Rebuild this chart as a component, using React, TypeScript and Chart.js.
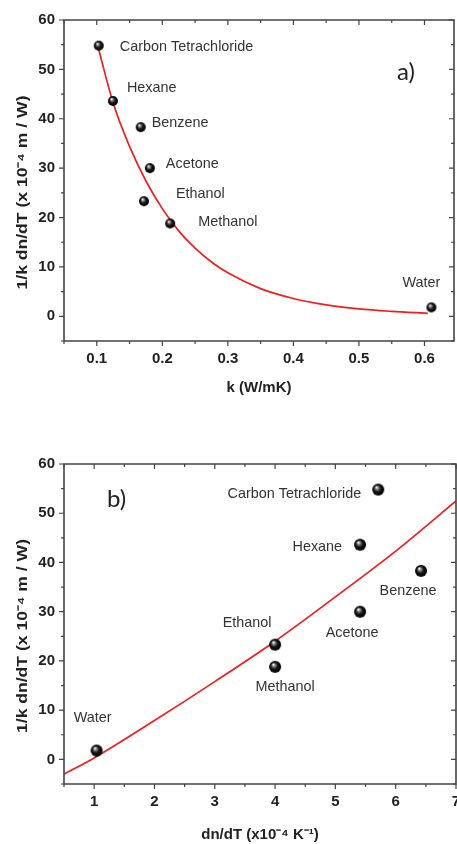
import React, { useEffect, useRef } from "react";
import { Chart, registerables } from "chart.js";

Chart.register(...registerables);

// ---------- data ----------
const solvents = ["Carbon Tetrachloride", "Hexane", "Benzene", "Acetone", "Ethanol", "Methanol", "Water"];
const kValues = [0.103, 0.1246, 0.167, 0.181, 0.172, 0.212, 0.6105];
const dndtValues = [5.71, 5.41, 6.42, 5.41, 4.0, 4.0, 1.04];
const figureOfMerit = [54.8, 43.6, 38.3, 30.0, 23.3, 18.8, 1.8];

const fitKx = [0.102, 0.125, 0.15, 0.175, 0.2, 0.225, 0.25, 0.275, 0.3, 0.35, 0.4, 0.45, 0.5, 0.55, 0.605];
const fitKy = [54.5, 43.2, 34.4, 27.4, 21.8, 17.3, 13.8, 11.0, 8.8, 5.6, 3.6, 2.3, 1.5, 1.0, 0.6];

const fitDx = [0.5, 1, 2, 3, 4, 5, 6, 7];
const fitDy = [-3.0, 0.3, 7.9, 15.8, 24.0, 33.0, 42.3, 52.5];

const yTitle = "1/k dn/dT (x 10\u207B\u2074 m / W)";
const xTitleA = "k (W/mK)";
const xTitleB = "dn/dT (x10\u207B\u2074 K\u207B\u00B9)";

// ---------- styling ----------
const FONT = '"Liberation Sans", Arial, sans-serif';
const TXT = "#222";

function makeBall(r: number) {
  const s = Math.ceil(r * 2 + 2);
  const c = document.createElement("canvas");
  c.width = s;
  c.height = s;
  const g = c.getContext("2d")!;
  const cx = s / 2, cy = s / 2;
  const grad = g.createRadialGradient(cx - r * 0.3, cy - r * 0.4, r * 0.05, cx, cy, r);
  grad.addColorStop(0, "#ffffff");
  grad.addColorStop(0.22, "#8a8a8a");
  grad.addColorStop(0.55, "#151515");
  grad.addColorStop(1, "#000000");
  g.fillStyle = grad;
  g.beginPath();
  g.arc(cx, cy, r, 0, Math.PI * 2);
  g.fill();
  return c;
}

function framePlugin(xStep: number, yStep: number) {
  return {
    id: "frame",
    afterDatasetsDraw(chart: any) {
      const { ctx, chartArea: a, scales } = chart;
      const xs = scales.x, ys = scales.y;
      ctx.save();
      ctx.strokeStyle = "#444";
      ctx.lineWidth = 1.6;
      ctx.beginPath();
      ctx.rect(a.left, a.top, a.right - a.left, a.bottom - a.top);
      ctx.stroke();
      ctx.lineWidth = 1.2;
      ctx.beginPath();
      const mx = xStep / 2;
      for (let i = Math.ceil(xs.min / mx - 1e-6); i * mx <= xs.max + 1e-9; i++) {
        const p = xs.getPixelForValue(i * mx);
        const L = i % 2 === 0 ? 5 : 3;
        ctx.moveTo(p, a.bottom);
        ctx.lineTo(p, a.bottom + L);
        ctx.moveTo(p, a.top);
        ctx.lineTo(p, a.top + L);
      }
      const my = yStep / 2;
      for (let i = Math.ceil(ys.min / my - 1e-6); i * my <= ys.max + 1e-9; i++) {
        const p = ys.getPixelForValue(i * my);
        const L = i % 2 === 0 ? 5 : 3;
        ctx.moveTo(a.left, p);
        ctx.lineTo(a.left - L, p);
        ctx.moveTo(a.right, p);
        ctx.lineTo(a.right - L, p);
      }
      ctx.stroke();
      ctx.restore();
    },
  };
}

type LabelPos = { dx: number; dy: number; align: CanvasTextAlign };

function labelPlugin(xs: number[], ys: number[], pos: LabelPos[], tag: string, tagX: number, tagY: number, yOff: number) {
  return {
    id: "labels",
    afterDraw(chart: any) {
      const { ctx, scales, chartArea: a } = chart;
      ctx.save();
      ctx.font = `14.4px ${FONT}`;
      ctx.fillStyle = "#333";
      ctx.textBaseline = "middle";
      solvents.forEach((name, i) => {
        const p = pos[i];
        ctx.textAlign = p.align;
        ctx.fillText(name, scales.x.getPixelForValue(xs[i]) + p.dx, scales.y.getPixelForValue(ys[i]) + p.dy);
      });
      ctx.font = `24px Lato, "Open Sans", sans-serif`;
      ctx.fillStyle = TXT;
      ctx.textAlign = "left";
      ctx.fillText(tag, tagX, tagY);
      // y title
      ctx.translate(23, (a.top + a.bottom) / 2 + yOff);
      ctx.rotate(-Math.PI / 2);
      ctx.scale(1.17, 1);
      ctx.font = `bold 15px ${FONT}`;
      ctx.textAlign = "center";
      ctx.fillText(yTitle, 0, 0);
      ctx.restore();
    },
  };
}

function isMultiple(v: number, step: number) {
  const r = v / step;
  return Math.abs(r - Math.round(r)) < 1e-6;
}

function buildConfig(opts: {
  px: number[]; py: number[]; fx: number[]; fy: number[];
  xmin: number; xmax: number; xStep: number; decimals: number;
  padTop: number; padRight: number; xHeight: number; xTitle: string; xTitlePadBottom: number;
  ballR: number; pos: LabelPos[]; tag: string; tagX: number; tagY: number;
}) {
  const tickFont = { family: FONT, size: 15, weight: "bold" as const };
  return {
    type: "scatter" as const,
    data: {
      datasets: [
        {
          data: opts.fx.map((x, i) => ({ x, y: opts.fy[i] })),
          showLine: true,
          borderColor: "#ee1f1f",
          borderWidth: 1.7,
          pointRadius: 0,
          tension: 0.4,
          cubicInterpolationMode: "monotone" as const,
          order: 2,
        },
        {
          data: opts.px.map((x, i) => ({ x, y: opts.py[i] })),
          pointStyle: makeBall(opts.ballR),
          pointRadius: opts.ballR,
          order: 1,
        },
      ],
    },
    options: {
      animation: false as const,
      responsive: false,
      events: [],
      layout: { autoPadding: false, padding: { top: opts.padTop, right: opts.padRight, left: 0, bottom: 0 } },
      plugins: { legend: { display: false }, tooltip: { enabled: false } },
      scales: {
        x: {
          type: "linear" as const,
          min: opts.xmin,
          max: opts.xmax,
          grid: { display: false, drawTicks: false },
          border: { display: false },
          ticks: {
            stepSize: opts.xStep,
            includeBounds: false,
            padding: 9,
            autoSkip: false,
            maxRotation: 0,
            color: TXT,
            font: tickFont,
            callback: (v: any) => (isMultiple(Number(v), opts.xStep) ? Number(v).toFixed(opts.decimals) : ""),
          },
          title: {
            display: true,
            text: opts.xTitle,
            color: TXT,
            font: { family: FONT, size: 15, weight: "bold" as const },
            padding: { top: 0, bottom: opts.xTitlePadBottom },
          },
          afterFit(s: any) {
            s.height = opts.xHeight;
            s.paddingLeft = 0;
            s.paddingRight = 0;
          },
        },
        y: {
          type: "linear" as const,
          min: -5,
          max: 60,
          grid: { display: false, drawTicks: false },
          border: { display: false },
          ticks: {
            stepSize: 10,
            includeBounds: false,
            padding: 9,
            autoSkip: false,
            color: TXT,
            font: tickFont,
            callback: (v: any) => (isMultiple(Number(v), 10) ? String(Math.round(Number(v))) : ""),
          },
          afterFit(s: any) {
            s.width = 64;
            s.paddingTop = 0;
            s.paddingBottom = 0;
          },
        },
      },
    },
    plugins: [framePlugin(opts.xStep, 10), labelPlugin(opts.px, opts.py, opts.pos, opts.tag, opts.tagX, opts.tagY, 12)],
  };
}

const posA: LabelPos[] = [
  { dx: 21, dy: 1, align: "left" },
  { dx: 14, dy: -13, align: "left" },
  { dx: 11, dy: -4, align: "left" },
  { dx: 16, dy: -4, align: "left" },
  { dx: 32, dy: -7, align: "left" },
  { dx: 28, dy: -1, align: "left" },
  { dx: -29, dy: -24, align: "left" },
];

const posB: LabelPos[] = [
  { dx: -17, dy: 4, align: "right" },
  { dx: -18, dy: 2, align: "right" },
  { dx: -13, dy: 20, align: "center" },
  { dx: -8, dy: 21, align: "center" },
  { dx: -28, dy: -22, align: "center" },
  { dx: 10, dy: 20, align: "center" },
  { dx: -4, dy: -32, align: "center" },
];

export default function App() {
  const refA = useRef<HTMLCanvasElement>(null);
  const refB = useRef<HTMLCanvasElement>(null);

  useEffect(() => {
    const a = new Chart(
      refA.current!,
      buildConfig({
        px: kValues, py: figureOfMerit, fx: fitKx, fy: fitKy,
        xmin: 0.05, xmax: 0.645, xStep: 0.1, decimals: 1,
        padTop: 20, padRight: 3, xHeight: 79, xTitle: xTitleA, xTitlePadBottom: 23,
        ballR: 5, pos: posA, tag: "a)", tagX: 397, tagY: 72,
      }) as any
    );
    const b = new Chart(
      refB.current!,
      buildConfig({
        px: dndtValues, py: figureOfMerit, fx: fitDx, fy: fitDy,
        xmin: 0.5, xmax: 7, xStep: 1, decimals: 0,
        padTop: 44, padRight: 1, xHeight: 60, xTitle: xTitleB, xTitlePadBottom: 0,
        ballR: 6, pos: posB, tag: "b)", tagX: 107, tagY: 79,
      }) as any
    );
    return () => {
      a.destroy();
      b.destroy();
    };
  }, []);

  return (
    <div style={{ position: "absolute", left: 0, top: 0, width: 457, height: 844, background: "#fff" }}>
      <canvas ref={refA} width={457} height={420} style={{ position: "absolute", left: 0, top: 0, display: "block" }} />
      <canvas ref={refB} width={457} height={424} style={{ position: "absolute", left: 0, top: 420, display: "block" }} />
    </div>
  );
}
